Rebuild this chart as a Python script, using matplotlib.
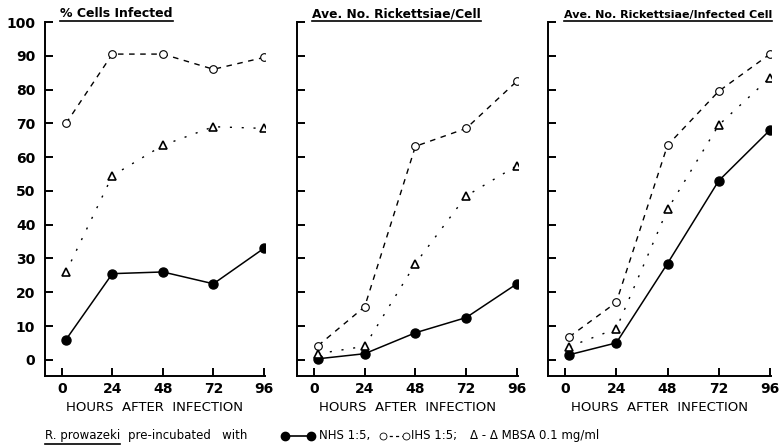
import matplotlib
matplotlib.use("Agg")
import matplotlib.pyplot as plt
from matplotlib.lines import Line2D

hours = [2, 24, 48, 72, 96]
x_ticks = [0, 24, 48, 72, 96]
y_ticks = [0, 10, 20, 30, 40, 50, 60, 70, 80, 90, 100]

titles = ["% Cells Infected", "Ave. No. Rickettsiae/Cell", "Ave. No. Rickettsiae/Infected Cell"]
title_sizes = [9, 8.8, 8]

nhs = [[6, 25.5, 26, 22.5, 33],
       [0.3, 1.8, 8, 12.5, 22.5],
       [1.5, 5, 28.5, 53, 68]]
ihs = [[70, 90.5, 90.5, 86, 89.5],
       [4.2, 15.7, 63.2, 68.5, 82.5],
       [6.8, 17, 63.5, 79.5, 90.5]]
mbsa = [[26, 54.5, 63.5, 69, 68.5],
        [1.8, 4, 28.5, 48.5, 57.5],
        [3.9, 9.2, 44.5, 69.5, 83.5]]

xlabel = "HOURS  AFTER  INFECTION"

W, H = 779, 447
fig = plt.figure(figsize=(W / 100, H / 100), dpi=100)
plt.rcParams['font.family'] = ['DejaVu Sans']

lefts = [45, 297, 548]
widths = [220, 221, 223]
bottom_px, top_px = 376, 22

axes = []
for i in range(3):
    ax = fig.add_axes([lefts[i] / W, 1 - bottom_px / H, widths[i] / W, (bottom_px - top_px) / H])
    axes.append(ax)
    ax.plot(hours, nhs[i], '-', color='black', lw=1.1, marker='o', ms=6.5,
            mfc='black', mec='black', zorder=3)
    ax.plot(hours, ihs[i], color='black', lw=1.0, ls=(0, (4, 4)), marker='o', ms=5.5,
            mfc='white', mec='black', mew=0.8, zorder=3)
    ax.plot(hours, mbsa[i], color='black', lw=1.0, ls=(0, (1.5, 7)), marker='^', ms=6,
            mfc='white', mec='black', mew=1.2, zorder=3)
    ax.set_xlim(-8, 96.5)
    ax.set_ylim(-4.8, 100)
    for s in ['top', 'right']:
        ax.spines[s].set_visible(False)
    for s in ['left', 'bottom']:
        ax.spines[s].set_linewidth(1.4)
    ax.set_xticks(x_ticks)
    ax.set_yticks(y_ticks)
    ax.tick_params(direction='in', length=6, width=1.4, labelsize=10, pad=4)
    ax.set_xticklabels([str(v) for v in x_ticks], fontweight='bold')
    if i == 0:
        ax.set_yticklabels([str(v) for v in y_ticks], fontweight='bold')
        ax.tick_params(axis='y', pad=7)
    else:
        ax.set_yticklabels([])
    ax.set_xlabel(xlabel, fontsize=9.5, labelpad=4)
    ax.text(0.07, 1.005, titles[i], transform=ax.transAxes, fontsize=title_sizes[i],
            fontweight='bold', ha='left', va='bottom')

fig.canvas.draw()
renderer = fig.canvas.get_renderer()

def underline(t):
    bb = t.get_window_extent(renderer)
    y = bb.y0 - 1
    fig.add_artist(Line2D([bb.x0 / W, bb.x1 / W], [y / H, y / H], color='black', lw=1.2,
                          transform=fig.transFigure))

for ax in axes:
    underline(ax.texts[0])

ly = 1 - 436 / H
fs = 8.5
t1 = fig.text(45 / W, ly, "R. prowazeki", fontsize=fs, ha='left', va='center')
fig.canvas.draw()
bb = t1.get_window_extent(renderer)
fig.text((bb.x1 + 8) / W, ly, "pre-incubated   with", fontsize=fs, ha='left', va='center')
underline(t1)

fig.add_artist(Line2D([285 / W, 311 / W], [ly, ly], color='black', lw=1.2, marker='o', ms=6,
                      mfc='black', transform=fig.transFigure))
fig.text(319 / W, ly, "NHS 1:5,", fontsize=fs, ha='left', va='center')
fig.add_artist(Line2D([383 / W, 406 / W], [ly, ly], color='black', lw=0.9, ls=(0, (2.5, 2.5)),
                      marker='o', ms=5, mfc='white', mew=0.6, transform=fig.transFigure))
fig.text(411 / W, ly, "IHS 1:5;", fontsize=fs, ha='left', va='center')
fig.text(470 / W, ly, "\u0394 - \u0394 MBSA 0.1 mg/ml", fontsize=fs, ha='left', va='center')

fig.savefig("out.png", dpi=100)
